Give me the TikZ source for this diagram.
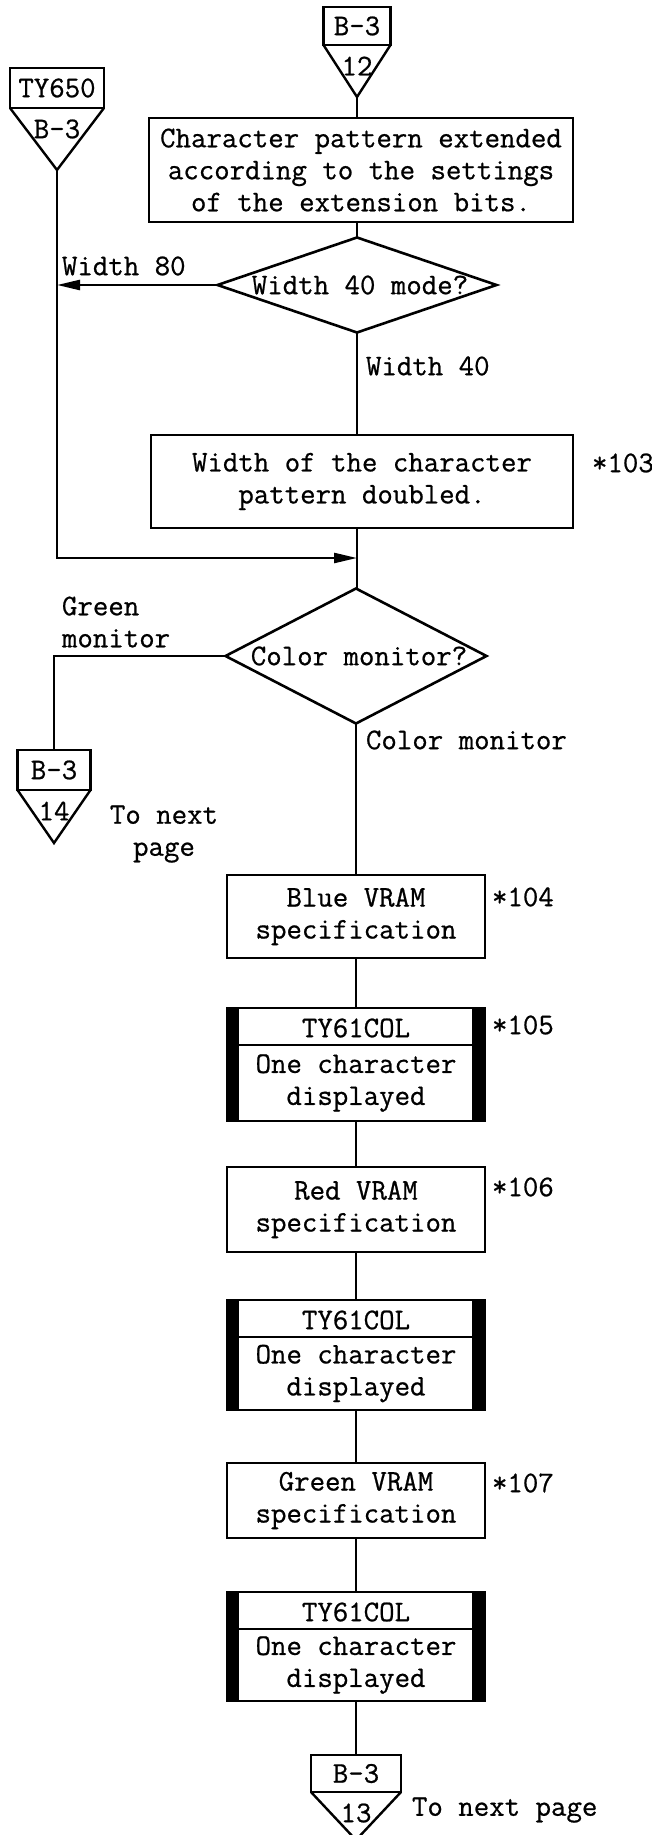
\documentclass[tikz,border=0pt]{standalone}
\usepackage{fontspec}
\setmonofont{Latin Modern Mono}[FakeBold=0.7]
\usetikzlibrary{shapes.geometric,arrows.meta,calc}

\newcommand{\offpage}[8]{%
  \node[cbox, minimum width=#4pt, minimum height=#5pt, anchor=north] (#1) at (#2,#3) {#7};
  \coordinate (#1-tip) at ($(#1.south)+(0,#6)$);
  \draw[edge, line join=miter] (#1.south west) -- (#1-tip) -- (#1.south east);
  \node[txt] (#1-low) at ($(#1.south)+(0,21)$) {#8};
}
\newcommand{\subrbox}[5]{%
  \node[cbox, minimum width=258pt, minimum height=#4pt] (#1) at (#2,#3) {};
  \fill (#1.north west) rectangle ($(#1.south west)+(12,0)$);
  \fill (#1.north east) rectangle ($(#1.south east)+(-13,0)$);
  \draw[edge] ($(#1.north west)+(0,37)$) -- ($(#1.north east)+(0,37)$);
  \node[txt] (#1-name) at ($(#1.north)+(0,20)$) {TY61COL};
  \node[txt] (#1-desc) at ($(#1.north)+(0,{(37+#4)/2})$) {#5};
}

\begin{document}
\begin{tikzpicture}[x=1pt,y=-1pt,
  every node/.style={font=\fontsize{30}{32}\selectfont\ttfamily},
  txt/.style={inner sep=0pt, outer sep=0pt, align=center},
  proc/.style={draw, line width=2.8pt, inner sep=0pt, outer sep=0pt, align=center},
  cbox/.style={draw, line width=2.6pt, inner sep=0pt, outer sep=0pt},
  dia/.style={draw, diamond, line width=2.6pt, inner sep=0pt, outer sep=0pt},
  edge/.style={line width=2.4pt},
  arr/.style={edge, -{Triangle[length=23pt,width=10pt]}},
]
\useasboundingbox (0,0) rectangle (651,1835);

% off-page connectors
\offpage{c1}{357}{7}{67}{38}{52}{B-3}{12}
\offpage{c2}{57}{68}{94}{40}{62}{TY650}{B-3}
\offpage{c3}{54}{750}{73}{40}{53}{B-3}{14}
\offpage{c4}{356}{1755}{90}{37}{48}{B-3}{13}

% process boxes
\node[proc, minimum width=424pt, minimum height=104pt] (b1) at (361,170)
  {Character pattern extended\\according to the settings\\of the extension bits.};
\node[dia, minimum width=279pt, minimum height=95pt] (d1) at (357,285) {};
\node[txt] (d1t) at (360,285) {Width 40 mode?};
\node[proc, minimum width=422pt, minimum height=93pt] (b2) at (362,481.5)
  {Width of the character\\pattern doubled.};
\coordinate (j1) at (357,558);
\node[dia, minimum width=261pt, minimum height=135pt] (d2) at (356,656) {};
\node[txt] (d2t) at (359,656) {Color monitor?};

\node[proc, minimum width=258pt, minimum height=83pt] (v1) at (356,916.5)
  {Blue VRAM\\specification};
\subrbox{s1}{356}{1064.5}{113}{One character\\displayed}
\node[proc, minimum width=258pt, minimum height=85pt] (v2) at (356,1209.5)
  {Red VRAM\\specification};
\subrbox{s2}{356}{1355}{110}{One character\\displayed}
\node[proc, minimum width=258pt, minimum height=75pt] (v3) at (356,1500.5)
  {Green VRAM\\specification};
\subrbox{s3}{356}{1646.5}{109}{One character\\displayed}

% connectors
\draw[edge] (c1-tip) -- (c1-tip |- b1.north);
\draw[edge] (b1.south -| d1.north) -- (d1.north);
\draw[arr] (d1.west) -- (c2-tip |- d1.west);
\draw[arr] (c2-tip) |- (j1);
\draw[edge] (d1.south) -- (d1.south |- b2.north);
\draw[edge] (b2.south -| j1) -- (j1) -- (j1 |- d2.north);
\draw[edge] (d2.west) -| (c3.north);
\draw[edge] (d2.south) -- (d2.south |- v1.north);
\draw[edge] (v1.south) -- (s1.north);
\draw[edge] (s1.south) -- (v2.north);
\draw[edge] (v2.south) -- (s2.north);
\draw[edge] (s2.south) -- (v3.north);
\draw[edge] (v3.south) -- (s3.north);
\draw[edge] (s3.south) -- (c4.north);

% labels
\node[txt, anchor=west] (l80) at (62,266) {Width 80};
\node[txt, anchor=west] (l40) at (366,366) {Width 40};
\node[txt, anchor=west, align=left] (lgm) at (62,622) {Green\\monitor};
\node[txt, anchor=west] (lcm) at (366,740) {Color monitor};
\node[txt] (lnp1) at (164,834) {To next\\page};
\node[txt, anchor=west] (lnp2) at (412,1810) {To next page};

% notes
\node[txt, anchor=west] (n103) at (592,463) {*103};
\node[txt, anchor=west] (n104) at (492,897) {*104};
\node[txt, anchor=west] (n105) at (492,1025) {*105};
\node[txt, anchor=west] (n106) at (492,1187) {*106};
\node[txt, anchor=west] (n107) at (492,1483) {*107};
\end{tikzpicture}
\end{document}
